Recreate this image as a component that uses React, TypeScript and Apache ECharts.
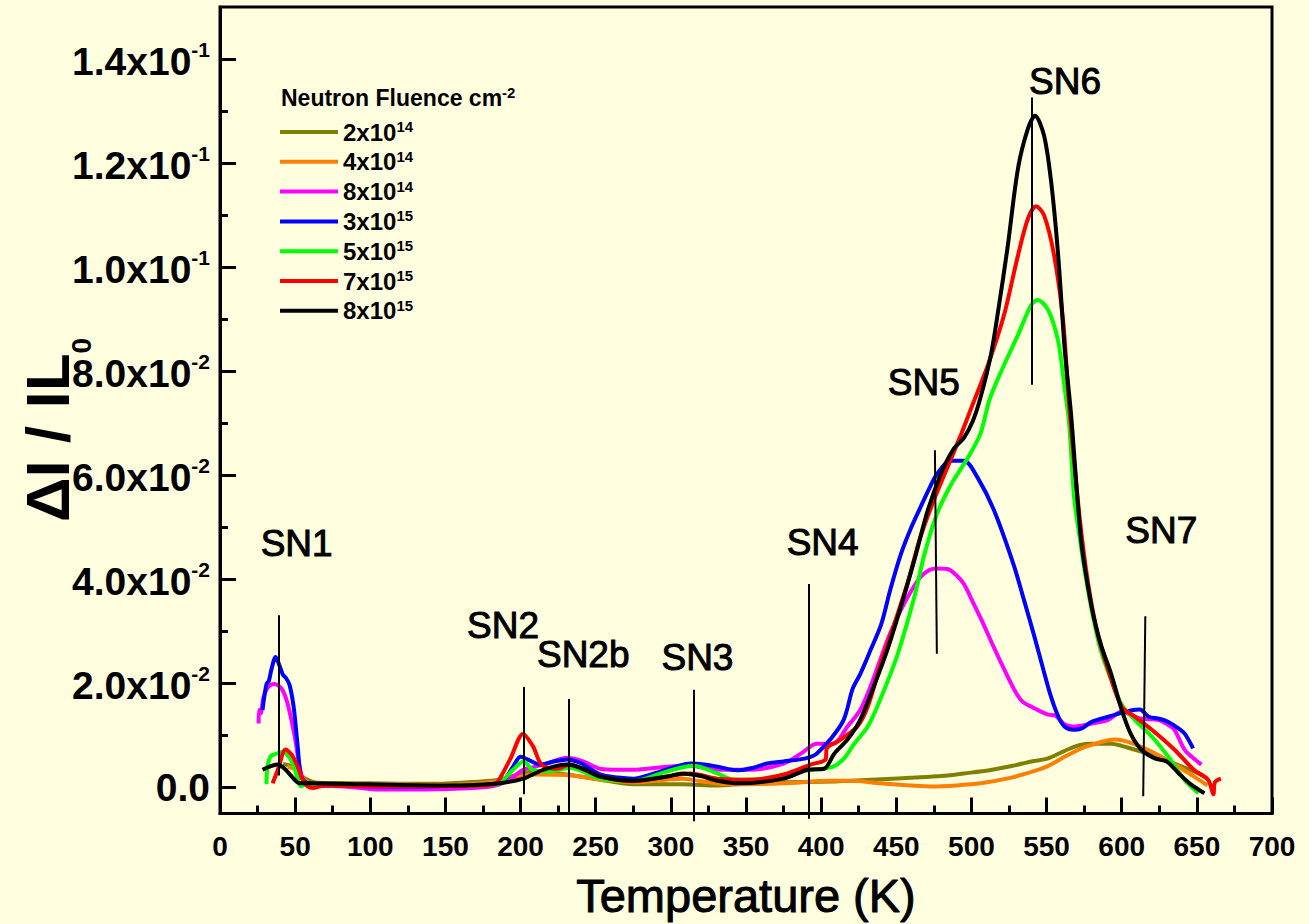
import React, { useEffect, useRef } from 'react';
import * as echarts from 'echarts';

const FONT = "'Liberation Sans', Arial, Helvetica, sans-serif";
const BG = '#FFFFE0';

// Legend: neutron fluence (mantissa x 10^exponent)
const fluenceMantissa = ['2', '4', '8', '3', '5', '7', '8'];
const fluenceExponent = ['14', '14', '14', '15', '15', '15', '15'];
const seriesColors = ['#808000', '#FF8000', '#FF00FF', '#0000FF', '#00FF00', '#FF0000', '#000000'];

// Series: [Temperature (K), ΔI/IL0]
const fluence2e14 = [
  [42, 0.0045], [48, 0.0040], [53, 0.0025], [58, 0.0015], [65, 0.0009], [100, 0.0008], [140, 0.0007],
  [165, 0.0010], [180, 0.0013], [186, 0.0015], [195, 0.0022], [208, 0.0030], [220, 0.0028], [231, 0.0025],
  [253, 0.0015], [275, 0.0006], [308, 0.0006], [331, 0.0004], [353, 0.0008], [375, 0.0010], [400, 0.0011],
  [420, 0.0013], [440, 0.0016], [462, 0.0019], [480, 0.0022], [495, 0.0027], [512, 0.0033], [528, 0.0042],
  [540, 0.0050], [551, 0.0056], [564, 0.0073], [573, 0.0082], [580, 0.0084], [593, 0.0084], [600, 0.0080],
  [606, 0.0075], [620, 0.0063], [635, 0.0046], [651, 0.0027], [657, 0.0017],
];
const fluence4e14 = [
  [45, 0.0040], [50, 0.0035], [55, 0.0018], [60, 0.0008], [100, 0.0006], [150, 0.0005], [180, 0.0010],
  [195, 0.0018], [210, 0.0025], [231, 0.0024], [253, 0.0015], [275, 0.0010], [297, 0.0015], [308, 0.0017],
  [320, 0.0012], [341, 0.0006], [375, 0.0008], [406, 0.0013], [420, 0.0013], [440, 0.0008], [473, 0.0002],
  [490, 0.0004], [506, 0.0008], [525, 0.0018], [540, 0.0030], [550, 0.0040], [562, 0.0059], [573, 0.0075],
  [580, 0.0082], [595, 0.0092], [608, 0.0084], [624, 0.0063], [640, 0.0036], [655, 0.0008], [657, 0.0004],
];
const fluence8e14 = [
  [25.7, 0.0123], [26, 0.0149], [27, 0.0142], [29, 0.0174], [32.3, 0.0194], [36.3, 0.0199], [41, 0.0190],
  [45, 0.0161], [49.7, 0.0098], [53, 0.0040], [56.3, 0.0008], [62, 0.0003], [75, 0.0003], [90, 0.0000],
  [105, -0.0004], [130, -0.0004], [160, -0.0002], [180, 0.0002], [186, 0.0006], [195, 0.0020], [201.7, 0.0034],
  [210, 0.0040], [217.5, 0.0046], [231, 0.0057], [241.7, 0.0050], [253, 0.0036], [265, 0.0034], [275, 0.0034],
  [297.5, 0.0040], [313, 0.0042], [331, 0.0034], [353, 0.0034], [375, 0.0046], [387, 0.0066], [397, 0.0084],
  [408, 0.0084], [417.5, 0.0117], [426, 0.0149], [433, 0.0195], [440, 0.0251], [446, 0.0297], [453, 0.0341],
  [460, 0.0378], [466, 0.0404], [472, 0.0418], [477, 0.0421], [484, 0.0420], [490, 0.0408], [495, 0.0391],
  [502, 0.0350], [508, 0.0314], [514, 0.0275], [520, 0.0238], [528.5, 0.0188], [534, 0.0165], [540, 0.0155],
  [551, 0.0140], [556, 0.0138], [562, 0.0121], [568, 0.0117], [580, 0.0123], [591, 0.0130], [600, 0.0146],
  [606, 0.0140], [613, 0.0132], [624, 0.0130], [630, 0.0122], [635, 0.0111], [641.7, 0.0073], [647, 0.0058],
  [653, 0.0044],
];
const fluence3e15 = [
  [28.3, 0.0149], [29.5, 0.0175], [31, 0.0199], [32.5, 0.0205], [34.3, 0.0228], [37, 0.0251], [39.5, 0.0235],
  [41.8, 0.0217], [44, 0.0210], [46.3, 0.0197], [49, 0.0155], [51.7, 0.0079], [54, 0.0021], [58.5, 0.0008],
  [70, 0.0005], [90, 0.0003], [120, 0.0002], [150, 0.0003], [175, 0.0005], [188, 0.0012], [195, 0.0040],
  [200, 0.0059], [206, 0.0052], [213, 0.0044], [222, 0.0050], [231, 0.0054], [240, 0.0047], [253, 0.0025],
  [265, 0.0019], [275, 0.0017], [290, 0.0028], [300, 0.0037], [313, 0.0046], [322, 0.0044], [331, 0.0040],
  [344, 0.0033], [355, 0.0038], [364, 0.0046], [375, 0.0050], [386, 0.0054], [393, 0.0059], [397, 0.0065],
  [406, 0.0092], [415, 0.0130], [421, 0.0190], [426, 0.0218], [433, 0.0265], [440, 0.0314], [446, 0.0380],
  [453, 0.0448], [460, 0.0500], [466, 0.0538], [472, 0.0575], [477, 0.0602], [486, 0.0628], [495, 0.0628],
  [504, 0.0596], [515, 0.0533], [528, 0.0429], [535, 0.0360], [542, 0.0289], [548, 0.0225], [553, 0.0174],
  [558, 0.0135], [562, 0.0117], [568, 0.0111], [573, 0.0113], [580, 0.0126], [590, 0.0135], [598, 0.0142],
  [606, 0.0148], [612, 0.0150], [618, 0.0136], [625, 0.0132], [631, 0.0126], [637, 0.0115], [642, 0.0103],
  [647.5, 0.0075],
];
const fluence5e15 = [
  [31, 0.0006], [31.3, 0.0034], [33.7, 0.0060], [37.7, 0.0065], [41, 0.0068], [44, 0.0065], [48.5, 0.0046],
  [51.7, 0.0017], [54, 0.0002], [57.7, 0.0006], [70, 0.0005], [100, 0.0003], [150, 0.0003], [180, 0.0005],
  [186, 0.0008], [195, 0.0034], [202, 0.0050], [208.7, 0.0033], [219.7, 0.0031], [233, 0.0038], [242, 0.0030],
  [253, 0.0017], [275, 0.0012], [297.5, 0.0031], [315, 0.0042], [331, 0.0027], [341.7, 0.0015], [364, 0.0017],
  [386, 0.0031], [400, 0.0036], [408, 0.0040], [415, 0.0055], [422, 0.0084], [431, 0.0117], [440, 0.0174],
  [451, 0.0257], [462, 0.0366], [468.7, 0.0448], [477, 0.0525], [486, 0.0580], [497.7, 0.0634], [506, 0.0680],
  [512, 0.0745], [520, 0.0801], [531, 0.0870], [539.7, 0.0927], [544, 0.0937], [551, 0.0918], [557.7, 0.0858],
  [562, 0.0768], [565, 0.0700], [568.3, 0.0558], [572, 0.0481], [575, 0.0423], [580, 0.0341], [586, 0.0264],
  [593, 0.0207], [600, 0.0159], [608.7, 0.0130], [620, 0.0098], [631, 0.0059], [641.7, 0.0015], [651, -0.0011],
];
const fluence7e15 = [
  [35, 0.0008], [38.5, 0.0034], [43.7, 0.0073], [47.7, 0.0063], [51.7, 0.0040], [55, 0.0015], [58.3, 0.0002],
  [62, -0.0001], [70, 0.0004], [100, 0.0003], [150, 0.0003], [180, 0.0005], [184, 0.0008], [193, 0.0054],
  [201.7, 0.0103], [208.3, 0.0079], [214, 0.0044], [224, 0.0036], [233, 0.0044], [242, 0.0035], [253, 0.0021],
  [275, 0.0012], [297.5, 0.0021], [313, 0.0027], [331, 0.0017], [353, 0.0015], [375, 0.0025], [393, 0.0044],
  [403, 0.0054], [403.7, 0.0075], [413, 0.0092], [424, 0.0117], [431, 0.0155], [439.7, 0.0238], [448.7, 0.0314],
  [458, 0.0398], [466, 0.0481], [475, 0.0552], [484, 0.0615], [493, 0.0678], [500, 0.0730], [511, 0.0812],
  [521.7, 0.0908], [531, 0.1023], [537.7, 0.1094], [543, 0.1117], [548.3, 0.1100], [555, 0.1023], [561, 0.0897],
  [565, 0.0736], [572, 0.0519], [577.7, 0.0391], [584, 0.0295], [591, 0.0226], [600, 0.0155], [608.7, 0.0136],
  [620, 0.0111], [635, 0.0073], [648, 0.0034], [657.5, 0.0015], [661, -0.0013], [662, 0.0010], [666, 0.0017],
];
const fluence8e15 = [
  [28.3, 0.0034], [33, 0.0040], [38.3, 0.0044], [43, 0.0036], [47.7, 0.0021], [53, 0.0008], [59.7, 0.0008],
  [100, 0.0006], [150, 0.0004], [170, 0.0005], [186, 0.0008], [201.7, 0.0017], [215, 0.0034], [231, 0.0044],
  [241.7, 0.0036], [253, 0.0021], [275, 0.0013], [297.5, 0.0021], [308, 0.0027], [320, 0.0022], [331, 0.0013],
  [346, 0.0008], [375, 0.0017], [391, 0.0034], [402, 0.0036], [408.7, 0.0065], [417.5, 0.0092], [426, 0.0130],
  [435, 0.0194], [444, 0.0264], [453, 0.0347], [462, 0.0437], [471, 0.0533], [480, 0.0605], [488, 0.0650],
  [495, 0.0672], [501, 0.0705], [506, 0.0749], [513, 0.0832], [518, 0.0920], [524, 0.1037], [531, 0.1190],
  [537.7, 0.1267], [542.3, 0.1291], [548.3, 0.1253], [553, 0.1165], [557.7, 0.1023], [562, 0.0845],
  [566.3, 0.0717], [573, 0.0475], [580, 0.0347], [586, 0.0276], [593, 0.0218], [600, 0.0149], [606, 0.0103],
  [613, 0.0073], [622, 0.0056], [630, 0.0050], [638, 0.0027], [646, 0.0006], [655, -0.0011],
];
const seriesData = [fluence2e14, fluence4e14, fluence8e14, fluence3e15, fluence5e15, fluence7e15, fluence8e15];

// Peak annotations
const peakNames = ['SN1', 'SN2', 'SN2b', 'SN3', 'SN4', 'SN5', 'SN6', 'SN7'];
const peakLabelX = [51, 188.3, 241.7, 317.7, 401, 468.3, 562.3, 626.3];
const peakLabelY = [0.0469, 0.0312, 0.0255, 0.0249, 0.0471, 0.0778, 0.1357, 0.0494];
const peakLineXTop = [39, 202.3, 232.3, 315, 391.7, 475.7, 540.3, 615.7];
const peakLineXBottom = [39, 202.3, 232.3, 315, 391.7, 477, 540.3, 614.3];
const peakLineTop = [0.0331, 0.0193, 0.0170, 0.0188, 0.0391, 0.0648, 0.1326, 0.0329];
const peakLineBottom = [0.0023, -0.0013, -0.0050, -0.0065, -0.0060, 0.0257, 0.0774, -0.0017];

// Axes
const yTickValues = [0, 0.02, 0.04, 0.06, 0.08, 0.10, 0.12, 0.14];
const yTickMantissa = ['0.0', '2.0x10', '4.0x10', '6.0x10', '8.0x10', '1.0x10', '1.2x10', '1.4x10'];
const yTickExponent = ['', '-2', '-2', '-2', '-2', '-1', '-1', '-1'];
const yMinorTickValues = [0.01, 0.03, 0.05, 0.07, 0.09, 0.11, 0.13];

const seriesNames = fluenceMantissa.map((m, i) => `${m}x10^${fluenceExponent[i]}`);

export default function App() {
  const ref = useRef<HTMLDivElement>(null);
  useEffect(() => {
    if (!ref.current) return;
    const chart = echarts.init(ref.current, null, { renderer: 'svg' });
    const lineSeries = seriesData.map((d, i) => ({
      name: seriesNames[i],
      type: 'line',
      data: d,
      showSymbol: false,
      symbol: 'none',
      smooth: 0.3,
      color: seriesColors[i],
      lineStyle: { color: seriesColors[i], width: 4 },
      z: 2 + i,
    }));
    const legendRich = {
      b: { fontSize: 24, fontWeight: 'bold', color: '#000', fontFamily: FONT, lineHeight: 26 },
      s: { fontSize: 15, fontWeight: 'bold', color: '#000', fontFamily: FONT, verticalAlign: 'top', lineHeight: 13 },
    };
    const option: any = {
      animation: false,
      backgroundColor: BG,
      textStyle: { fontFamily: FONT, color: '#000' },
      title: {
        text: '{b|Neutron Fluence cm}{s|-2}',
        left: 281,
        top: 85,
        padding: 0,
        textStyle: {
          rich: {
            b: { fontSize: 23, fontWeight: 'bold', color: '#000', fontFamily: FONT, lineHeight: 25 },
            s: { fontSize: 15, fontWeight: 'bold', color: '#000', fontFamily: FONT, verticalAlign: 'top', lineHeight: 12 },
          },
        },
      },
      legend: {
        orient: 'vertical',
        left: 280,
        top: 119,
        padding: 0,
        itemWidth: 58,
        itemHeight: 4,
        itemGap: 4.8,
        icon: 'rect',
        selectedMode: false,
        data: seriesNames,
        formatter: (name: string) => {
          const [m, e] = name.split('^');
          return `{b|${m}}{s|${e}}`;
        },
        textStyle: { rich: legendRich },
      },
      grid: {
        left: 220,
        right: 37,
        top: 7,
        bottom: 107,
        show: true,
        backgroundColor: BG,
        borderColor: '#000',
        borderWidth: 3,
      },
      xAxis: {
        type: 'value',
        min: 0,
        max: 700,
        interval: 50,
        name: 'Temperature (K)',
        nameLocation: 'middle',
        nameGap: 58,
        nameTextStyle: { fontSize: 47, color: '#000', fontFamily: FONT, textBorderColor: '#000', textBorderWidth: 1 },
        axisLine: { show: true, onZero: false, lineStyle: { color: '#000', width: 3 } },
        axisTick: { show: true, inside: true, length: 16, lineStyle: { color: '#000', width: 3 } },
        minorTick: { show: true, splitNumber: 2, length: 8, lineStyle: { color: '#000', width: 3 } },
        axisLabel: { fontSize: 28, fontWeight: 'bold', color: '#000', margin: 19, fontFamily: FONT },
        splitLine: { show: false },
      },
      yAxis: [
        {
          type: 'value',
          min: -0.005,
          max: 0.15,
          position: 'left',
          axisLine: { show: true, onZero: false, lineStyle: { color: '#000', width: 3 } },
          axisTick: { show: true, inside: true, length: 16, customValues: yTickValues, lineStyle: { color: '#000', width: 3 } },
          axisLabel: {
            customValues: yTickValues,
            margin: 10,
            formatter: (v: number) => {
              const i = yTickValues.findIndex((t) => Math.abs(t - v) < 1e-9);
              if (i < 0) return '';
              if (!yTickExponent[i]) return `{z|${yTickMantissa[i]}}`;
              return `{m|${yTickMantissa[i]}}{e|${yTickExponent[i]}}`;
            },
            rich: {
              z: { fontSize: 39, fontWeight: 'bold', color: '#000', fontFamily: FONT, lineHeight: 40 },
              m: { fontSize: 39, fontWeight: 'bold', color: '#000', fontFamily: FONT, lineHeight: 40, padding: [4, 0, 0, 0] },
              e: { fontSize: 21, fontWeight: 'bold', color: '#000', fontFamily: FONT, lineHeight: 16, verticalAlign: 'top' },
            },
          },
          splitLine: { show: false },
        },
        {
          type: 'value',
          min: -0.005,
          max: 0.15,
          position: 'left',
          axisLine: { show: false },
          axisTick: { show: true, inside: true, length: 8, customValues: yMinorTickValues, lineStyle: { color: '#000', width: 3 } },
          axisLabel: { show: false },
          splitLine: { show: false },
        },
      ],
      graphic: [
        {
          type: 'text',
          x: 47,
          y: 430,
          rotation: Math.PI / 2,
          style: {
            text: '{m|ΔI / IL}{s|0}',
            align: 'center',
            verticalAlign: 'middle',
            rich: {
              m: { fontSize: 62, fontWeight: 'bold', fill: '#000', fontFamily: FONT, lineHeight: 62, verticalAlign: 'top' },
              s: { fontSize: 28, fontWeight: 'bold', fill: '#000', fontFamily: FONT, lineHeight: 28, verticalAlign: 'top', padding: [51, 0, 0, 0] },
            },
          },
        },
      ],
      series: [
        ...lineSeries,
        {
          type: 'lines',
          coordinateSystem: 'cartesian2d',
          silent: true,
          clip: false,
          z: 20,
          lineStyle: { color: '#000', width: 2, opacity: 1 },
          data: peakNames.map((n, i) => ({
            coords: [
              [peakLineXTop[i], peakLineTop[i]],
              [peakLineXBottom[i], peakLineBottom[i]],
            ],
          })),
        },
        {
          type: 'scatter',
          silent: true,
          clip: false,
          symbolSize: 0,
          z: 21,
          itemStyle: { color: '#000', opacity: 1 },
          label: {
            show: true,
            position: 'inside',
            formatter: '{b}',
            fontSize: 37,
            color: '#000',
            opacity: 1,
            fontFamily: FONT,
            textBorderColor: '#000',
            textBorderWidth: 1,
          },
          data: peakNames.map((n, i) => ({ name: n, value: [peakLabelX[i], peakLabelY[i]] })),
        },
      ],
    };
    chart.setOption(option);
    return () => chart.dispose();
  }, []);
  return (
    <div
      ref={ref}
      style={{ position: 'absolute', left: 0, top: 0, width: 1309, height: 924, background: BG }}
    />
  );
}
